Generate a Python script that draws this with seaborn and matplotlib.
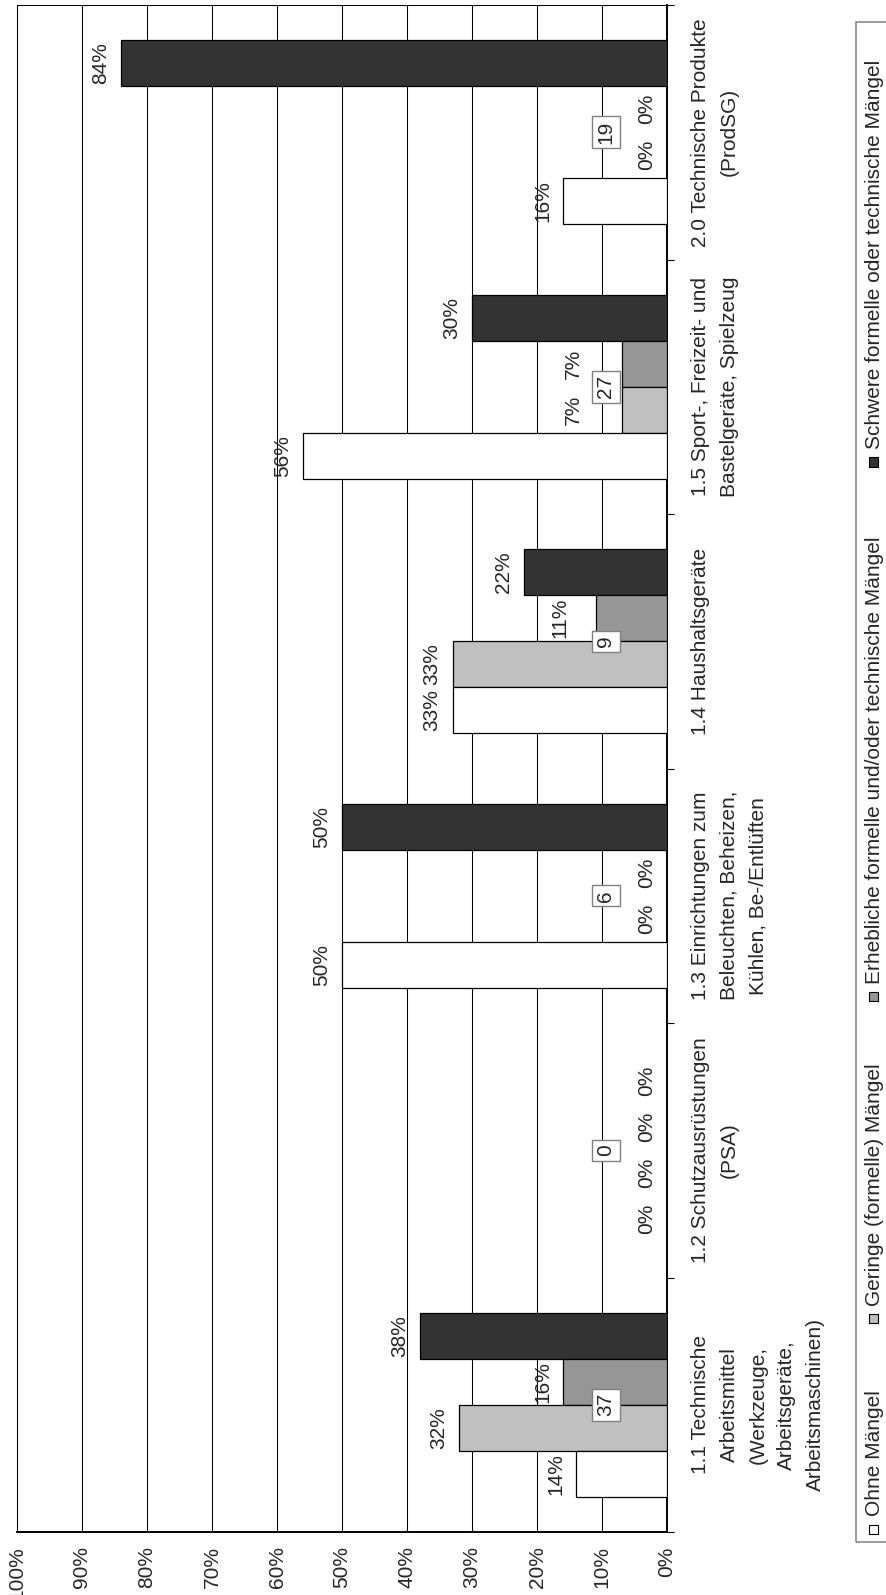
import matplotlib
matplotlib.use("Agg")
import matplotlib.pyplot as plt
import seaborn as sns
import pandas as pd
import numpy as np
from matplotlib.patches import Rectangle
from matplotlib.transforms import blended_transform_factory

# ---------------- data ----------------
categories = [
    "1.1 Technische\nArbeitsmittel\n(Werkzeuge,\nArbeitsgeräte,\nArbeitsmaschinen)",
    "1.2 Schutzausrüstungen\n(PSA)",
    "1.3 Einrichtungen zum\nBeleuchten, Beheizen,\nKühlen, Be-/Entlüften",
    "1.4 Haushaltsgeräte",
    "1.5 Sport-, Freizeit- und\nBastelgeräte, Spielzeug",
    "2.0 Technische Produkte\n(ProdSG)",
]
series = [
    "Ohne Mängel",
    "Geringe (formelle) Mängel",
    "Erhebliche formelle und/oder technische Mängel",
    "Schwere formelle oder technische Mängel",
]
ohne = [14, 0, 50, 33, 56, 16]
geringe = [32, 0, 0, 33, 7, 0]
erhebliche = [16, 0, 0, 11, 7, 0]
schwere = [38, 0, 50, 22, 30, 84]
counts = [37, 0, 6, 9, 27, 19]
colors = ["#FFFFFF", "#C0C0C0", "#969696", "#333333"]
xticks = [0, 10, 20, 30, 40, 50, 60, 70, 80, 90, 100]
xtick_labels = ["0%", "10%", "20%", "30%", "40%", "50%", "60%", "70%", "80%", "90%", "100%"]

# ---------------- style ----------------
sns.set_style("white")
plt.rcParams["font.family"] = ["Liberation Sans", "DejaVu Sans"]
FS = 15

W, H = 886, 1595
fig = plt.figure(figsize=(W / 100, H / 100), dpi=100)
ax_left, ax_right, ax_top, ax_bottom = 17, 667, 5, 1532
ax = fig.add_axes([ax_left / W, 1 - ax_bottom / H,
                   (ax_right - ax_left) / W, (ax_bottom - ax_top) / H])

rows = []
for s, vals in zip(series, [ohne, geringe, erhebliche, schwere]):
    for c, v in zip(categories, vals):
        rows.append({"cat": c, "series": s, "value": v})
df = pd.DataFrame(rows)

order = categories[::-1]          # 2.0 at top
hue_order = series[::-1]          # Schwere on top inside each group
palette = dict(zip(series, colors))

sns.barplot(data=df, y="cat", x="value", hue="series", order=order,
            hue_order=hue_order, palette=palette, orient="h", width=0.723,
            edgecolor="black", linewidth=0.9, legend=False, errorbar=None,
            saturation=1, ax=ax, zorder=3)

# axes
ax.set_xlim(100, 0)
ax.set_ylim(5.5, -0.5)
ax.set_xticks(xticks)
ax.set_xticklabels(xtick_labels, rotation=90, fontsize=FS)
ax.set_yticks(np.arange(-0.5, 6.0, 1.0))
ax.set_yticklabels([])
ax.yaxis.set_ticks_position("right")
ax.tick_params(axis="y", direction="out", length=5, width=0.8, color="black")
ax.tick_params(axis="x", direction="out", length=4.3, width=0.8, color="black", pad=6)
ax.set_xlabel("")
ax.set_ylabel("")
ax.xaxis.grid(True, color="black", linewidth=0.75)
ax.yaxis.grid(False)
ax.set_axisbelow(True)
for side in ["left", "top"]:
    ax.spines[side].set_visible(True)
    ax.spines[side].set_color("black")
    ax.spines[side].set_linewidth(0.75)
for side in ["right", "bottom"]:
    ax.spines[side].set_visible(True)
    ax.spines[side].set_color("black")
    ax.spines[side].set_linewidth(1.4)

# value labels (small non-zero labels pushed past the count box)
for p in ax.patches:
    v = p.get_width()
    yc = p.get_y() + p.get_height() / 2
    if 0 < v < 10:
        off = -39
    elif 10 <= v < 12:
        off = -26
    else:
        off = -11
    ax.annotate(f"{v:.0f}%", xy=(v, yc), xytext=(off, 0),
                textcoords="offset pixels", rotation=90, ha="right",
                va="center", fontsize=FS, zorder=5)

# counts boxes + category labels
trans = blended_transform_factory(ax.transAxes, ax.transData)
for c, n in zip(categories, counts):
    i = order.index(c)
    ax.text(9.4, i, str(n), rotation=90, ha="center", va="center",
            fontsize=FS, zorder=6,
            bbox=dict(boxstyle="square,pad=0.22", fc="white", ec="#808080", lw=1))
    ax.annotate(c, xy=(1, i), xycoords=trans, xytext=(24, 0),
                textcoords="offset pixels", rotation=90, ha="left",
                va="center", multialignment="center", linespacing=1.65,
                fontsize=FS, annotation_clip=False)

# ---------------- legend (rotated, drawn manually) ----------------
def fx(x):
    return x / W

def fy(y):
    return 1 - y / H

fig.add_artist(Rectangle((fx(856), fy(1542)), (900 - 856) / W, (1542 - 22) / H,
                         transform=fig.transFigure, fill=False,
                         ec="#808080", lw=1.1, clip_on=False))
marker_y = [1529, 1318, 996, 462]
msz = 9
for s, col, my in zip(series, colors, marker_y):
    fig.add_artist(Rectangle((fx(873 - msz / 2), fy(my + msz / 2)), msz / W, msz / H,
                             transform=fig.transFigure, fc=col, ec="black",
                             lw=0.8, clip_on=False))
    fig.text(fx(874), fy(my - msz / 2 - 8), s, rotation=90, ha="center",
             va="bottom", fontsize=FS)

fig.savefig("out.png", dpi=100)
